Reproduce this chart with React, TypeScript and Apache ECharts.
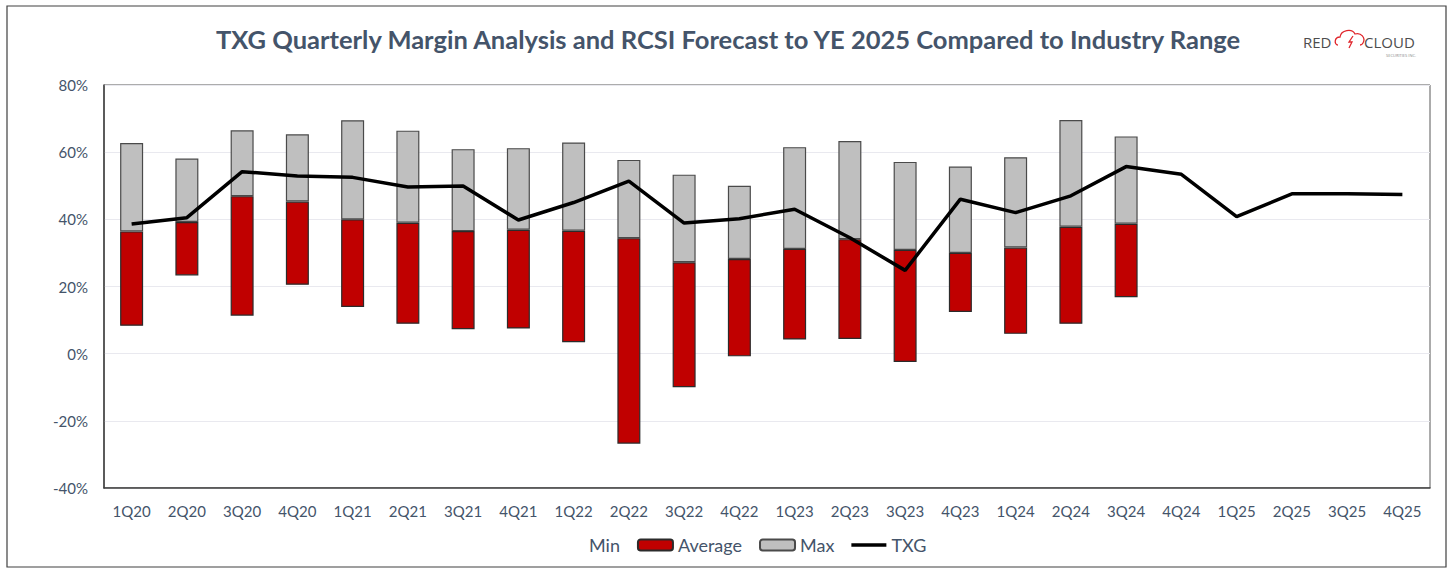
import React, { useEffect, useRef } from "react";
import * as echarts from "echarts";

const categories = [
  "1Q20", "2Q20", "3Q20", "4Q20", "1Q21", "2Q21", "3Q21", "4Q21",
  "1Q22", "2Q22", "3Q22", "4Q22", "1Q23", "2Q23", "3Q23", "4Q23",
  "1Q24", "2Q24", "3Q24", "4Q24", "1Q25", "2Q25", "3Q25", "4Q25",
];

const minValues = [8.3, 23.3, 11.3, 20.5, 13.9, 8.9, 7.3, 7.5, 3.4, -26.8, -10.0, -0.8, 4.2, 4.4, -2.5, 12.4, 5.9, 8.9, 16.8];
const avgValues = [36.4, 39.2, 46.9, 45.3, 40.0, 39.0, 36.5, 36.9, 36.6, 34.4, 27.2, 28.2, 31.2, 34.1, 30.9, 30.0, 31.6, 37.8, 38.7];
const maxValues = [62.7, 58.1, 66.5, 65.3, 69.5, 66.4, 60.9, 61.2, 62.9, 57.7, 53.3, 50.0, 61.5, 63.3, 57.1, 55.7, 58.5, 69.6, 64.7];
const txgValues = [38.6, 40.5, 54.2, 52.9, 52.5, 49.6, 49.9, 39.8, 45.0, 51.4, 38.9, 40.2, 43.0, 34.5, 24.8, 46.0, 42.0, 47.0, 55.7, 53.4, 40.8, 47.6, 47.6, 47.4];

const yTicks = { min: -40, max: 80, interval: 20 };

const TITLE = "TXG Quarterly Margin Analysis and RCSI Forecast to YE 2025 Compared to Industry Range";
const TEXT_COLOR = "#44546A";
const FONT = "Lato, 'Open Sans', sans-serif";

let shapesRegistered = false;
function registerShapes() {
  if (shapesRegistered) return;
  shapesRegistered = true;
  echarts.graphic.registerShape(
    "cloudOutline",
    echarts.graphic.extendPath(
      "M4 17 C0 17 0 9 6 9 C7 2 18 0 21 6 C27 4 32 10 29 15 C28 17 27 17 26 17",
      {}
    )
  );
  echarts.graphic.registerShape(
    "cloudBolt",
    echarts.graphic.extendPath("M19 8 L15 14 L18 14 L15 20", {})
  );
}

export default function App() {
  const ref = useRef<HTMLDivElement>(null);

  useEffect(() => {
    if (!ref.current) return;
    registerShapes();
    const chart = echarts.init(ref.current, null, { renderer: "svg" });

    const baseData = categories.map((_, i) => (i < minValues.length ? minValues[i] : null));
    const avgData = categories.map((_, i) =>
      i < avgValues.length ? +(avgValues[i] - minValues[i]).toFixed(2) : null
    );
    const maxData = categories.map((_, i) =>
      i < maxValues.length ? +(maxValues[i] - avgValues[i]).toFixed(2) : null
    );

    const option: any = {
      animation: false,
      backgroundColor: "#ffffff",
      textStyle: { fontFamily: FONT },
      grid: {
        left: 104,
        right: 20,
        top: 85,
        bottom: 81,
        show: true,
        borderColor: "#595959",
        borderWidth: 1,
        containLabel: false,
      },
      legend: {
        left: 549,
        top: 536,
        padding: 0,
        itemGap: 17,
        itemWidth: 35,
        itemHeight: 11,
        textStyle: { color: TEXT_COLOR, fontSize: 18, fontFamily: FONT },
        data: [
          { name: "Min", itemStyle: { color: "transparent", borderWidth: 0 } },
          { name: "Average" },
          { name: "Max" },
          {
            name: "TXG",
            icon: "path://M0,4 L35,4 L35,7.5 L0,7.5 Z",
            itemStyle: { color: "#000" },
          },
        ],
        selectedMode: false,
      },
      xAxis: {
        type: "category",
        data: categories,
        boundaryGap: true,
        axisLine: { show: true, onZero: false, lineStyle: { color: "#404040", width: 1.5 } },
        axisTick: { show: false },
        axisLabel: { color: TEXT_COLOR, fontSize: 15, margin: 15, interval: 0, fontFamily: FONT },
        splitLine: { show: false },
      },
      yAxis: {
        type: "value",
        min: yTicks.min,
        max: yTicks.max,
        interval: yTicks.interval,
        axisLine: { show: true, lineStyle: { color: "#404040", width: 1.5 } },
        axisTick: { show: false },
        axisLabel: {
          color: TEXT_COLOR,
          fontSize: 15,
          margin: 16,
          formatter: "{value}%",
          fontFamily: FONT,
        },
        splitLine: { show: true, lineStyle: { color: "#E9E9EF", width: 1 } },
      },
      series: [
        {
          name: "Min",
          type: "bar",
          stack: "range",
          stackStrategy: "all",
          barWidth: 23,
          data: baseData,
          itemStyle: { color: "transparent", borderWidth: 0 },
          emphasis: { disabled: true },
          silent: true,
        },
        {
          name: "Average",
          type: "bar",
          stack: "range",
          stackStrategy: "all",
          barWidth: 23,
          data: avgData,
          itemStyle: { color: "#C00000", borderColor: "#2B2B2B", borderWidth: 1.2 },
          emphasis: { disabled: true },
        },
        {
          name: "Max",
          type: "bar",
          stack: "range",
          stackStrategy: "all",
          barWidth: 23,
          data: maxData,
          itemStyle: { color: "#BFBFBF", borderColor: "#4A4A4A", borderWidth: 1.2 },
          emphasis: { disabled: true },
        },
        {
          name: "TXG",
          type: "line",
          data: txgValues,
          symbol: "none",
          showSymbol: false,
          lineStyle: { color: "#000000", width: 3.5 },
          itemStyle: { color: "#000000" },
          z: 5,
        },
      ],
      graphic: [
        {
          type: "rect",
          shape: { x: 7, y: 6, width: 1439, height: 561 },
          style: { fill: "none", stroke: "#404040", lineWidth: 1.2 },
          silent: true,
          z: 0,
        },
        {
          type: "text",
          x: 728,
          y: 39,
          style: {
            text: TITLE,
            fill: TEXT_COLOR,
            font: "bold 25.5px " + FONT,
            textAlign: "center",
            textVerticalAlign: "middle",
          },
        },
        {
          type: "text",
          x: 1303,
          y: 42,
          style: {
            text: "RED",
            fill: "#4D4D4D",
            font: "15px 'Open Sans', sans-serif",
            textAlign: "left",
            textVerticalAlign: "middle",
          },
        },
        {
          type: "cloudOutline",
          x: 1334,
          y: 28,
          scaleX: 1,
          scaleY: 1,
          style: { fill: "none", stroke: "#E0262C", lineWidth: 1.3 },
        },
        {
          type: "cloudBolt",
          x: 1334,
          y: 28,
          scaleX: 1,
          scaleY: 1,
          style: { fill: "none", stroke: "#E0262C", lineWidth: 1.3 },
        },
        {
          type: "text",
          x: 1364,
          y: 42,
          style: {
            text: "CLOUD",
            fill: "#4D4D4D",
            font: "15px 'Open Sans', sans-serif",
            textAlign: "left",
            textVerticalAlign: "middle",
          },
        },
        {
          type: "text",
          x: 1416,
          y: 55,
          style: {
            text: "SECURITIES INC.",
            fill: "#8A8A8A",
            font: "4px 'Open Sans', sans-serif",
            textAlign: "right",
            textVerticalAlign: "middle",
          },
        },
      ],
    };

    chart.setOption(option);
    return () => {
      chart.dispose();
    };
  }, []);

  return (
    <div
      ref={ref}
      style={{ position: "absolute", left: 0, top: 0, width: 1450, height: 569, background: "#fff" }}
    />
  );
}
